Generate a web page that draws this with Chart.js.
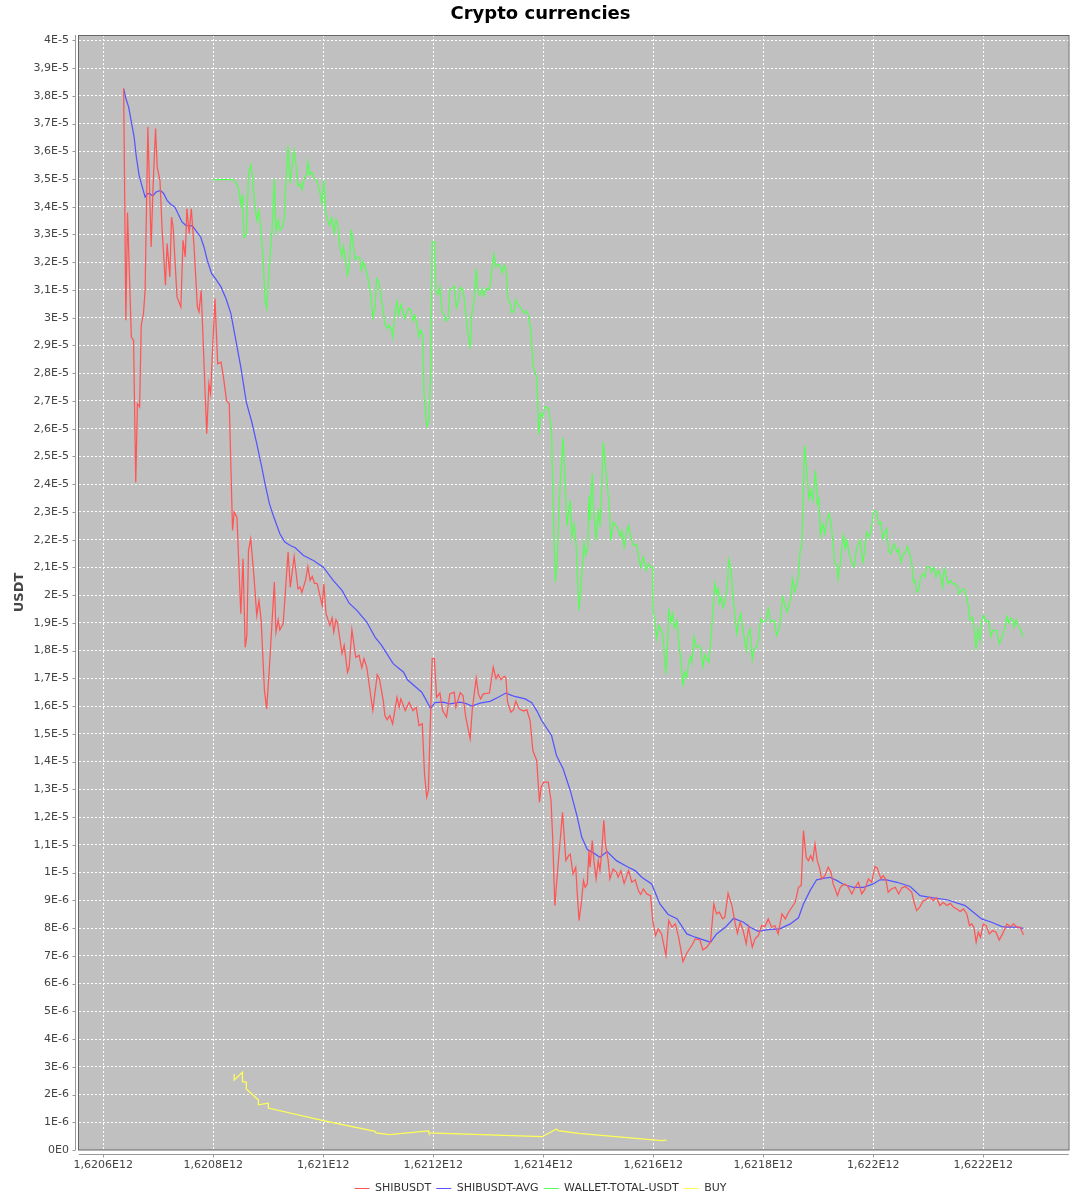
<!DOCTYPE html>
<html>
<head>
<meta charset="utf-8">
<title>Crypto currencies</title>
<script src="https://cdn.jsdelivr.net/npm/chart.js@4.4.1/dist/chart.umd.min.js"></script>
<style>
  html, body { margin: 0; padding: 0; background: #fff; }
  #wrap { width: 1080px; height: 1200px; }
</style>
</head>
<body>
<div id="wrap"><canvas id="cryptoChart" width="1080" height="1200"></canvas></div>
<script>
// Times are in units of 1E8 ms, prices in units of 1E-6 USDT
const TIME_UNIT = 1e8;
const PRICE_UNIT = 1e-6;

// SHIBUSDT
const shibTime = [
  16206.37, 16206.41, 16206.44, 16206.51, 16206.55, 16206.59, 16206.62, 16206.66, 16206.69, 16206.73,
  16206.76, 16206.81, 16206.87, 16206.90, 16206.95, 16206.98, 16207.03, 16207.07, 16207.13, 16207.16,
  16207.21, 16207.24, 16207.27, 16207.34, 16207.41, 16207.45, 16207.49, 16207.52, 16207.56, 16207.60,
  16207.65, 16207.71, 16207.74, 16207.78, 16207.88, 16207.92, 16207.95, 16208.03, 16208.08, 16208.14,
  16208.18, 16208.24, 16208.29, 16208.35, 16208.38, 16208.43, 16208.50, 16208.54, 16208.58, 16208.61,
  16208.64, 16208.68, 16208.74, 16208.79, 16208.83, 16208.87, 16208.93, 16208.97, 16209.02, 16209.11,
  16209.14, 16209.18, 16209.21, 16209.27, 16209.36, 16209.40, 16209.47, 16209.54, 16209.58, 16209.61,
  16209.68, 16209.72, 16209.76, 16209.80, 16209.84, 16209.89, 16209.98, 16210.01, 16210.05, 16210.12,
  16210.16, 16210.19, 16210.23, 16210.26, 16210.34, 16210.38, 16210.44, 16210.47, 16210.52, 16210.59,
  16210.65, 16210.70, 16210.74, 16210.79, 16210.90, 16210.98, 16211.02, 16211.09, 16211.12, 16211.16,
  16211.21, 16211.26, 16211.34, 16211.38, 16211.41, 16211.49, 16211.56, 16211.63, 16211.69, 16211.74,
  16211.80, 16211.84, 16211.88, 16211.91, 16211.98, 16212.02, 16212.06, 16212.12, 16212.17, 16212.24,
  16212.30, 16212.38, 16212.41, 16212.49, 16212.54, 16212.59, 16212.67, 16212.71, 16212.78, 16212.82,
  16212.86, 16212.91, 16213.02, 16213.09, 16213.14, 16213.18, 16213.23, 16213.29, 16213.32, 16213.35,
  16213.41, 16213.46, 16213.50, 16213.56, 16213.64, 16213.70, 16213.76, 16213.81, 16213.88, 16213.93,
  16213.96, 16214.01, 16214.09, 16214.14, 16214.17, 16214.21, 16214.27, 16214.35, 16214.41, 16214.46,
  16214.49, 16214.54, 16214.59, 16214.62, 16214.65, 16214.69, 16214.73, 16214.76, 16214.80, 16214.83,
  16214.85, 16214.89, 16214.92, 16214.96, 16215.00, 16215.03, 16215.06, 16215.10, 16215.13, 16215.18,
  16215.21, 16215.27, 16215.33, 16215.36, 16215.41, 16215.47, 16215.55, 16215.61, 16215.67, 16215.73,
  16215.77, 16215.82, 16215.88, 16215.95, 16215.99, 16216.04, 16216.09, 16216.15, 16216.23, 16216.28,
  16216.34, 16216.40, 16216.46, 16216.54, 16216.61, 16216.70, 16216.76, 16216.85, 16216.90, 16216.97,
  16217.04, 16217.10, 16217.15, 16217.20, 16217.26, 16217.30, 16217.36, 16217.43, 16217.49, 16217.53,
  16217.58, 16217.63, 16217.69, 16217.73, 16217.80, 16217.85, 16217.91, 16217.97, 16218.03, 16218.09,
  16218.15, 16218.21, 16218.27, 16218.34, 16218.40, 16218.46, 16218.52, 16218.58, 16218.64, 16218.69,
  16218.73, 16218.78, 16218.82, 16218.86, 16218.90, 16218.94, 16218.98, 16219.02, 16219.06, 16219.12,
  16219.18, 16219.23, 16219.27, 16219.35, 16219.40, 16219.47, 16219.53, 16219.61, 16219.67, 16219.73,
  16219.79, 16219.85, 16219.91, 16219.97, 16220.03, 16220.07, 16220.14, 16220.18, 16220.23, 16220.27,
  16220.33, 16220.40, 16220.46, 16220.52, 16220.58, 16220.64, 16220.70, 16220.74, 16220.79, 16220.85,
  16220.90, 16220.97, 16221.03, 16221.09, 16221.15, 16221.21, 16221.27, 16221.34, 16221.40, 16221.46,
  16221.52, 16221.58, 16221.64, 16221.70, 16221.75, 16221.79, 16221.83, 16221.87, 16221.91, 16221.95,
  16222.00, 16222.05, 16222.11, 16222.17, 16222.23, 16222.29, 16222.35, 16222.43, 16222.49, 16222.55,
  16222.61, 16222.67, 16222.73
];
const shibPrice = [
  38.26, 29.91, 33.79, 29.30, 29.18, 24.06, 26.90, 26.78, 29.73, 30.15,
  30.99, 36.88, 32.55, 34.49, 36.82, 35.43, 34.95, 33.15, 31.17, 32.67,
  31.47, 33.63, 33.27, 30.75, 30.39, 32.79, 32.19, 33.93, 33.03, 33.93,
  32.55, 30.39, 30.21, 30.99, 25.82, 27.62, 27.26, 30.69, 28.34, 28.40,
  27.92, 27.02, 26.90, 22.33, 22.99, 22.81, 19.33, 21.31, 18.12, 18.55,
  21.61, 22.03, 20.65, 19.27, 19.81, 19.09, 16.56, 15.90, 17.40, 20.47,
  18.67, 19.11, 18.75, 18.97, 21.55, 20.29, 21.40, 20.23, 20.29, 20.09,
  20.56, 21.03, 20.53, 20.67, 20.43, 20.41, 19.63, 20.41, 19.33, 18.91,
  19.18, 18.67, 19.11, 18.99, 17.89, 18.19, 17.22, 17.40, 18.75, 17.76,
  17.83, 17.38, 17.71, 17.40, 15.84, 17.13, 16.99, 16.20, 15.66, 15.51,
  15.66, 15.36, 16.32, 15.96, 16.26, 15.84, 16.14, 15.84, 15.96, 15.30,
  15.36, 13.56, 12.72, 12.96, 17.71, 17.71, 16.32, 16.47, 15.84, 15.60,
  16.44, 16.50, 15.96, 16.48, 16.38, 15.60, 14.82, 15.90, 17.01, 16.44,
  16.26, 16.44, 16.47, 17.40, 16.99, 17.14, 16.95, 17.07, 17.02, 16.14,
  15.78, 15.87, 16.18, 15.90, 15.82, 15.87, 15.48, 14.40, 14.04, 12.54,
  13.08, 13.26, 13.26, 12.60, 11.27, 8.81, 10.31, 12.17, 10.43, 10.61,
  10.67, 9.95, 10.19, 9.17, 8.27, 8.87, 9.71, 9.47, 9.59, 10.79,
  10.19, 11.15, 10.43, 9.77, 10.43, 10.07, 10.67, 11.88, 11.03, 10.43,
  9.77, 10.13, 10.01, 9.83, 10.07, 9.61, 10.07, 9.65, 9.74, 9.35,
  9.21, 9.41, 9.23, 9.17, 8.27, 7.73, 7.97, 7.79, 7.01, 8.27,
  8.03, 8.15, 7.67, 6.79, 7.10, 7.37, 7.61, 7.57, 7.21, 7.31,
  7.49, 8.87, 8.51, 8.57, 8.33, 8.39, 9.25, 8.81, 8.15, 7.81,
  8.21, 7.93, 7.43, 8.03, 7.31, 7.61, 7.73, 8.09, 8.05, 8.33,
  8.03, 8.09, 7.79, 8.51, 8.33, 8.57, 8.75, 8.93, 9.47, 9.53,
  11.51, 10.55, 10.43, 10.61, 10.43, 11.03, 10.43, 10.19, 9.77, 9.89,
  10.19, 10.01, 9.59, 9.17, 9.47, 9.59, 9.53, 9.23, 9.47, 9.65,
  9.23, 9.41, 9.77, 9.65, 10.22, 10.17, 9.77, 9.89, 9.74, 9.29,
  9.41, 9.47, 9.23, 9.45, 9.50, 9.41, 9.29, 8.93, 8.63, 8.77,
  8.96, 9.05, 9.11, 8.99, 9.09, 8.81, 8.93, 8.81, 8.89, 8.75,
  8.69, 8.60, 8.69, 8.51, 8.09, 8.15, 8.03, 7.49, 7.85, 7.67,
  8.15, 8.09, 7.79, 7.91, 7.85, 7.57, 7.79, 8.15, 8.05, 8.15,
  8.03, 8.03, 7.76
];

// SHIBUSDT-AVG
const avgTime = [
  16206.37, 16206.41, 16206.46, 16206.51, 16206.56, 16206.60, 16206.65, 16206.70, 16206.76, 16206.80,
  16206.84, 16206.90, 16206.96, 16207.04, 16207.10, 16207.16, 16207.23, 16207.30, 16207.36, 16207.43,
  16207.50, 16207.62, 16207.68, 16207.77, 16207.83, 16207.89, 16207.97, 16208.04, 16208.14, 16208.23,
  16208.32, 16208.41, 16208.50, 16208.60, 16208.70, 16208.79, 16208.88, 16208.94, 16209.02, 16209.09,
  16209.21, 16209.30, 16209.40, 16209.49, 16209.64, 16209.82, 16210.00, 16210.18, 16210.34, 16210.47,
  16210.61, 16210.79, 16210.94, 16211.06, 16211.27, 16211.46, 16211.53, 16211.79, 16211.88, 16211.95,
  16212.03, 16212.18, 16212.30, 16212.49, 16212.61, 16212.70, 16212.85, 16213.03, 16213.18, 16213.32,
  16213.46, 16213.67, 16213.79, 16213.88, 16213.97, 16214.15, 16214.24, 16214.36, 16214.49, 16214.61,
  16214.70, 16214.80, 16214.91, 16215.03, 16215.16, 16215.33, 16215.52, 16215.67, 16215.79, 16215.97,
  16216.12, 16216.27, 16216.43, 16216.61, 16216.76, 16217.04, 16217.15, 16217.32, 16217.46, 16217.64,
  16217.76, 16217.91, 16218.09, 16218.30, 16218.49, 16218.64, 16218.73, 16218.85, 16218.97, 16219.09,
  16219.21, 16219.34, 16219.46, 16219.64, 16219.82, 16220.00, 16220.12, 16220.24, 16220.43, 16220.67,
  16220.85, 16221.03, 16221.34, 16221.67, 16221.82, 16221.97, 16222.15, 16222.34, 16222.43, 16222.61,
  16222.73
];
const avgPrice = [
  38.26, 37.90, 37.60, 37.06, 36.52, 35.80, 35.14, 34.77, 34.35, 34.47,
  34.47, 34.39, 34.53, 34.59, 34.47, 34.23, 34.08, 33.99, 33.75, 33.45,
  33.33, 33.31, 33.15, 32.91, 32.55, 32.07, 31.59, 31.41, 31.11, 30.69,
  30.15, 29.18, 28.22, 26.96, 26.24, 25.46, 24.62, 24.02, 23.30, 22.87,
  22.21, 21.91, 21.79, 21.71, 21.43, 21.25, 21.01, 20.53, 20.17, 19.71,
  19.45, 19.03, 18.49, 18.19, 17.53, 17.22, 16.95, 16.50, 16.18, 15.91,
  16.13, 16.14, 16.08, 16.14, 16.08, 16.00, 16.11, 16.17, 16.32, 16.47,
  16.36, 16.26, 16.12, 15.84, 15.48, 14.94, 14.22, 13.74, 12.96, 12.06,
  11.27, 10.83, 10.71, 10.55, 10.76, 10.43, 10.22, 10.07, 9.83, 9.59,
  8.87, 8.49, 8.34, 7.79, 7.67, 7.49, 7.79, 8.05, 8.35, 8.21,
  8.03, 7.88, 7.94, 7.97, 8.15, 8.37, 8.87, 9.35, 9.74, 9.79,
  9.83, 9.71, 9.57, 9.47, 9.47, 9.59, 9.74, 9.74, 9.65, 9.50,
  9.17, 9.11, 9.02, 8.81, 8.57, 8.33, 8.21, 8.05, 8.03, 8.03,
  7.99
];

// WALLET-TOTAL-USDT
const walletTime = [
  16207.99, 16208.36, 16208.40, 16208.44, 16208.47, 16208.50, 16208.53, 16208.56, 16208.60, 16208.64,
  16208.68, 16208.72, 16208.75, 16208.79, 16208.83, 16208.86, 16208.90, 16208.94, 16208.97, 16209.00,
  16209.04, 16209.08, 16209.11, 16209.14, 16209.18, 16209.21, 16209.26, 16209.29, 16209.32, 16209.36,
  16209.40, 16209.43, 16209.47, 16209.50, 16209.54, 16209.58, 16209.61, 16209.65, 16209.69, 16209.72,
  16209.75, 16209.79, 16209.83, 16209.88, 16209.93, 16209.98, 16210.01, 16210.04, 16210.07, 16210.11,
  16210.15, 16210.20, 16210.23, 16210.27, 16210.30, 16210.34, 16210.37, 16210.41, 16210.44, 16210.47,
  16210.51, 16210.55, 16210.58, 16210.62, 16210.66, 16210.69, 16210.73, 16210.76, 16210.80, 16210.86,
  16210.90, 16210.94, 16210.97, 16211.01, 16211.04, 16211.08, 16211.12, 16211.16, 16211.20, 16211.24,
  16211.26, 16211.30, 16211.34, 16211.37, 16211.41, 16211.44, 16211.48, 16211.52, 16211.55, 16211.59,
  16211.63, 16211.66, 16211.70, 16211.74, 16211.77, 16211.81, 16211.83, 16211.88, 16211.92, 16211.95,
  16211.98, 16212.02, 16212.05, 16212.09, 16212.12, 16212.16, 16212.20, 16212.23, 16212.27, 16212.30,
  16212.34, 16212.38, 16212.42, 16212.46, 16212.49, 16212.54, 16212.58, 16212.61, 16212.64, 16212.67,
  16212.70, 16212.74, 16212.78, 16212.81, 16212.85, 16212.89, 16212.92, 16212.96, 16213.00, 16213.03,
  16213.07, 16213.10, 16213.14, 16213.18, 16213.21, 16213.25, 16213.29, 16213.32, 16213.36, 16213.40,
  16213.43, 16213.47, 16213.50, 16213.55, 16213.60, 16213.65, 16213.69, 16213.73, 16213.77, 16213.82,
  16213.88, 16213.92, 16213.95, 16213.99, 16214.03, 16214.10, 16214.15, 16214.17, 16214.20, 16214.22,
  16214.25, 16214.28, 16214.30, 16214.33, 16214.36, 16214.39, 16214.43, 16214.46, 16214.49, 16214.52,
  16214.56, 16214.60, 16214.62, 16214.65, 16214.68, 16214.71, 16214.74, 16214.77, 16214.81, 16214.83,
  16214.85, 16214.89, 16214.92, 16214.96, 16215.00, 16215.03, 16215.06, 16215.09, 16215.13, 16215.16,
  16215.20, 16215.23, 16215.27, 16215.32, 16215.36, 16215.40, 16215.43, 16215.47, 16215.52, 16215.55,
  16215.59, 16215.64, 16215.69, 16215.72, 16215.77, 16215.82, 16215.87, 16215.91, 16215.95, 16215.99,
  16216.00, 16216.03, 16216.06, 16216.10, 16216.14, 16216.17, 16216.20, 16216.23, 16216.26, 16216.28,
  16216.32, 16216.35, 16216.38, 16216.43, 16216.46, 16216.50, 16216.54, 16216.57, 16216.61, 16216.64,
  16216.68, 16216.70, 16216.74, 16216.78, 16216.82, 16216.86, 16216.90, 16216.94, 16216.97, 16217.01,
  16217.04, 16217.08, 16217.12, 16217.15, 16217.18, 16217.20, 16217.24, 16217.27, 16217.31, 16217.35,
  16217.37, 16217.41, 16217.44, 16217.48, 16217.52, 16217.55, 16217.59, 16217.64, 16217.69, 16217.72,
  16217.76, 16217.80, 16217.83, 16217.88, 16217.92, 16217.95, 16218.00, 16218.05, 16218.09, 16218.14,
  16218.20, 16218.24, 16218.29, 16218.32, 16218.35, 16218.39, 16218.43, 16218.46, 16218.50, 16218.53,
  16218.57, 16218.61, 16218.64, 16218.67, 16218.70, 16218.73, 16218.75, 16218.79, 16218.83, 16218.86,
  16218.90, 16218.93, 16218.95, 16218.98, 16219.01, 16219.04, 16219.08, 16219.12, 16219.15, 16219.19,
  16219.23, 16219.26, 16219.30, 16219.34, 16219.36, 16219.40, 16219.43, 16219.46, 16219.49, 16219.52,
  16219.55, 16219.59, 16219.65, 16219.70, 16219.76, 16219.81, 16219.84, 16219.88, 16219.92, 16219.96,
  16220.00, 16220.03, 16220.06, 16220.10, 16220.14, 16220.17, 16220.21, 16220.24, 16220.28, 16220.32,
  16220.35, 16220.38, 16220.43, 16220.46, 16220.50, 16220.54, 16220.58, 16220.62, 16220.66, 16220.70,
  16220.73, 16220.76, 16220.79, 16220.83, 16220.86, 16220.90, 16220.94, 16220.97, 16221.03, 16221.06,
  16221.10, 16221.14, 16221.18, 16221.22, 16221.26, 16221.29, 16221.32, 16221.36, 16221.41, 16221.44,
  16221.49, 16221.53, 16221.56, 16221.61, 16221.65, 16221.70, 16221.73, 16221.76, 16221.80, 16221.83,
  16221.87, 16221.90, 16221.94, 16221.97, 16222.01, 16222.05, 16222.09, 16222.14, 16222.17, 16222.24,
  16222.29, 16222.34, 16222.39, 16222.43, 16222.46, 16222.50, 16222.54, 16222.56, 16222.60, 16222.64,
  16222.68, 16222.72
];
const walletTotal = [
  34.98, 34.98, 34.89, 34.77, 34.53, 34.05, 34.45, 32.89, 33.01, 35.14,
  35.50, 35.02, 34.17, 33.51, 33.87, 33.27, 32.31, 30.69, 30.33, 31.29,
  32.43, 33.57, 35.02, 33.09, 33.54, 33.15, 33.27, 33.57, 34.89, 36.18,
  34.84, 35.43, 36.01, 35.56, 34.74, 34.84, 34.62, 34.98, 35.14, 35.61,
  35.14, 35.25, 35.02, 34.95, 34.59, 34.11, 34.95, 33.81, 33.57, 33.33,
  33.61, 33.05, 33.54, 33.27, 32.55, 32.19, 32.57, 31.95, 31.53, 31.83,
  33.18, 32.55, 32.10, 32.19, 32.17, 31.71, 32.01, 31.83, 31.53, 30.87,
  30.00, 30.39, 31.41, 31.29, 30.87, 30.39, 29.79, 29.61, 29.73, 29.57,
  29.30, 30.15, 30.57, 30.09, 30.48, 30.27, 29.97, 30.21, 30.33, 30.29,
  29.88, 30.09, 29.81, 29.30, 29.55, 29.33, 27.26, 26.08, 26.30, 27.98,
  32.73, 32.73, 30.93, 30.83, 31.09, 30.21, 30.09, 29.88, 29.97, 31.01,
  31.05, 31.14, 30.36, 30.63, 31.09, 31.01, 30.39, 29.79, 29.30, 28.89,
  30.15, 30.57, 31.77, 30.99, 30.81, 31.05, 30.78, 31.05, 31.01, 31.11,
  31.83, 32.29, 31.83, 31.93, 31.89, 31.61, 31.89, 31.77, 30.63, 30.51,
  30.17, 30.27, 30.65, 30.45, 30.33, 30.17, 30.24, 30.09, 29.55, 28.22,
  27.86, 25.80, 26.54, 26.42, 26.80, 26.72, 25.94, 24.02, 21.61, 20.47,
  21.25, 22.69, 23.78, 24.74, 25.68, 24.38, 22.48, 22.99, 23.42, 22.09,
  22.57, 21.73, 20.71, 19.45, 20.23, 21.01, 21.85, 21.43, 21.73, 23.60,
  22.69, 24.38, 22.94, 21.97, 23.12, 22.45, 23.78, 25.52, 24.62, 24.07,
  23.17, 21.97, 22.63, 22.51, 22.36, 22.09, 22.33, 21.73, 22.31, 22.51,
  22.09, 21.79, 21.83, 21.55, 21.01, 21.37, 20.89, 21.13, 21.01, 21.01,
  19.51, 19.03, 18.43, 18.91, 18.73, 18.61, 17.89, 17.17, 18.25, 19.51,
  19.03, 19.33, 18.82, 19.09, 18.37, 17.65, 16.71, 17.22, 17.04, 17.53,
  17.79, 17.58, 18.49, 18.12, 18.19, 18.12, 17.43, 17.86, 17.71, 17.58,
  18.25, 19.33, 20.43, 20.05, 20.23, 19.69, 19.93, 19.55, 19.81, 20.47,
  21.28, 20.95, 20.17, 19.33, 18.61, 19.03, 19.33, 18.61, 18.01, 18.55,
  18.79, 17.67, 18.07, 18.12, 18.49, 19.15, 19.03, 19.09, 19.51, 19.03,
  19.09, 18.55, 18.79, 19.27, 19.93, 19.69, 19.39, 19.57, 19.87, 20.59,
  20.11, 20.41, 20.71, 21.61, 21.79, 23.89, 25.40, 24.50, 23.48, 23.78,
  23.42, 24.02, 24.50, 23.30, 23.48, 22.15, 22.57, 22.21, 22.63, 22.94,
  22.63, 22.03, 21.13, 21.07, 20.59, 21.13, 21.79, 22.15, 21.67, 21.97,
  21.61, 21.25, 21.01, 21.73, 21.97, 21.19, 21.55, 22.27, 22.09, 22.33,
  22.94, 23.05, 22.99, 22.57, 22.63, 22.03, 22.27, 22.39, 21.61, 21.49,
  21.67, 21.85, 21.55, 21.67, 21.19, 21.49, 21.51, 21.76, 21.51, 21.13,
  20.47, 20.53, 20.11, 20.23, 20.65, 20.77, 20.65, 21.01, 21.01, 20.83,
  21.01, 20.65, 20.89, 20.71, 20.29, 20.95, 20.77, 20.41, 20.53, 20.41,
  20.41, 20.31, 20.05, 20.19, 20.23, 19.93, 19.57, 19.09, 19.21, 18.85,
  18.03, 18.79, 18.37, 19.11, 19.27, 19.03, 19.09, 18.51, 18.73, 18.73,
  18.25, 18.49, 18.79, 19.23, 18.99, 19.18, 19.09, 18.85, 19.11, 18.85,
  18.75, 18.51
];

// BUY
const buyTime = [
  16208.38, 16208.38, 16208.53, 16208.53, 16208.60, 16208.60, 16208.82, 16208.82, 16209.00, 16209.00,
  16210.00, 16210.94, 16210.96, 16211.20, 16211.91, 16211.92, 16213.98, 16214.24, 16214.27, 16214.64,
  16216.15, 16216.24
];
const buyPrice = [
  2.74, 2.52, 2.80, 2.47, 2.44, 2.20, 1.80, 1.63, 1.69, 1.51,
  1.06, 0.67, 0.62, 0.55, 0.69, 0.62, 0.48, 0.76, 0.70, 0.60,
  0.34, 0.36
];

// axis ticks
const xTickValues = [16206, 16208, 16210, 16212, 16214, 16216, 16218, 16220, 16222];
const xTickLabels = ['1,6206E12', '1,6208E12', '1,621E12', '1,6212E12', '1,6214E12',
                     '1,6216E12', '1,6218E12', '1,622E12', '1,6222E12'];
const yTickValues = [0, 1, 2, 3, 4, 5, 6, 7, 8, 9, 10, 11, 12, 13, 14, 15, 16, 17, 18, 19, 20,
                     21, 22, 23, 24, 25, 26, 27, 28, 29, 30, 31, 32, 33, 34, 35, 36, 37, 38, 39, 40];
const yTickLabels = [
  '0E0', '1E-6', '2E-6', '3E-6', '4E-6', '5E-6', '6E-6', '7E-6', '8E-6', '9E-6',
  '1E-5', '1,1E-5', '1,2E-5', '1,3E-5', '1,4E-5', '1,5E-5', '1,6E-5', '1,7E-5', '1,8E-5', '1,9E-5',
  '2E-5', '2,1E-5', '2,2E-5', '2,3E-5', '2,4E-5', '2,5E-5', '2,6E-5', '2,7E-5', '2,8E-5', '2,9E-5',
  '3E-5', '3,1E-5', '3,2E-5', '3,3E-5', '3,4E-5', '3,5E-5', '3,6E-5', '3,7E-5', '3,8E-5', '3,9E-5',
  '4E-5'
];

// visible axis range
const X_MIN = 16205.558 * TIME_UNIT;
const X_MAX = 16223.553 * TIME_UNIT;
const Y_MAX = 40.19 * PRICE_UNIT;

function toPoints(times, values) {
  return times.map((t, i) => ({ x: t * TIME_UNIT, y: values[i] * PRICE_UNIT }));
}

// grey plot background, outline, and axis lines set off from the plot
const plotFrame = {
  id: 'plotFrame',
  beforeDraw(chart) {
    const { ctx, chartArea: a } = chart;
    ctx.save();
    ctx.fillStyle = '#c0c0c0';
    ctx.fillRect(a.left, a.top, a.right - a.left, a.bottom - a.top);
    ctx.restore();
  },
  afterDraw(chart) {
    const { ctx, chartArea: a, scales } = chart;
    ctx.save();
    ctx.lineWidth = 1;
    ctx.strokeStyle = '#666666';
    ctx.strokeRect(Math.round(a.left) - 0.5, Math.round(a.top) + 0.5,
                   Math.round(a.right - a.left) + 0.5, Math.round(a.bottom - a.top) - 0.5);
    ctx.strokeStyle = '#999999';
    ctx.beginPath();
    const ax = Math.round(a.left) - 3.5;
    const ay = Math.round(a.bottom) + 4.5;
    ctx.moveTo(ax, a.top); ctx.lineTo(ax, a.bottom);
    ctx.moveTo(a.left, ay); ctx.lineTo(a.right, ay);
    scales.y.ticks.forEach(t => {
      const y = Math.round(scales.y.getPixelForValue(t.value)) + 0.5;
      ctx.moveTo(ax - 3, y); ctx.lineTo(ax, y);
    });
    scales.x.ticks.forEach(t => {
      const x = Math.round(scales.x.getPixelForValue(t.value)) + 0.5;
      ctx.moveTo(x, ay); ctx.lineTo(x, ay + 3);
    });
    ctx.stroke();
    ctx.restore();
  }
};

Chart.defaults.font.family = "'DejaVu Sans', sans-serif";

const ctxCrypto = document.getElementById('cryptoChart').getContext('2d');
const cryptoChart = new Chart(ctxCrypto, {
  type: 'line',
  data: {
    datasets: [{
      label: 'SHIBUSDT',
      data: toPoints(shibTime, shibPrice),
      borderColor: '#ff5555',
      backgroundColor: '#ff5555'
    }, {
      label: 'SHIBUSDT-AVG',
      data: toPoints(avgTime, avgPrice),
      borderColor: '#5555ff',
      backgroundColor: '#5555ff'
    }, {
      label: 'WALLET-TOTAL-USDT',
      data: toPoints(walletTime, walletTotal),
      borderColor: '#55ff55',
      backgroundColor: '#55ff55'
    }, {
      label: 'BUY',
      data: toPoints(buyTime, buyPrice),
      borderColor: '#ffff55',
      backgroundColor: '#ffff55'
    }]
  },
  options: {
    responsive: false,
    animation: false,
    events: [],
    layout: { padding: { left: 12.3, right: 11.3, top: 0, bottom: -4 } },
    elements: {
      point: { radius: 0 },
      line: { borderWidth: 1.25, tension: 0, fill: false }
    },
    scales: {
      x: {
        type: 'linear',
        min: X_MIN,
        max: X_MAX,
        afterBuildTicks: function(scale) {
          scale.ticks = xTickValues.map(v => ({ value: v * TIME_UNIT }));
        },
        afterFit: function(scale) { scale.height = 28; },
        grid: { color: '#ffffff', lineWidth: 1, drawTicks: false },
        border: { display: false, dash: [2, 2] },
        ticks: {
          autoSkip: false,
          maxRotation: 0,
          padding: 9,
          color: '#444444',
          font: { size: 11 },
          callback: function(value, index) { return xTickLabels[index]; }
        }
      },
      y: {
        type: 'linear',
        min: 0,
        max: Y_MAX,
        afterBuildTicks: function(scale) {
          scale.ticks = yTickValues.map(v => ({ value: v * PRICE_UNIT }));
        },
        afterFit: function(scale) { scale.width = 66.7; },
        grid: { color: '#ffffff', lineWidth: 1, drawTicks: false },
        border: { display: false, dash: [2, 2] },
        title: {
          display: true,
          text: 'USDT',
          color: '#444444',
          font: { size: 13, weight: 'bold' },
          padding: { top: 0, bottom: 0 }
        },
        ticks: {
          autoSkip: false,
          padding: 10,
          color: '#444444',
          font: { size: 11 },
          callback: function(value, index) { return yTickLabels[index]; }
        }
      }
    },
    plugins: {
      title: {
        display: true,
        text: 'Crypto currencies',
        color: '#000000',
        font: { size: 18, weight: 'bold' },
        padding: { top: 4, bottom: 9.4 }
      },
      legend: {
        position: 'bottom',
        labels: {
          usePointStyle: true,
          pointStyle: 'line',
          pointStyleWidth: 15,
          padding: 5,
          color: '#333333',
          font: { size: 11 }
        }
      },
      tooltip: { enabled: false }
    }
  },
  plugins: [plotFrame]
});
</script>
</body>
</html>
